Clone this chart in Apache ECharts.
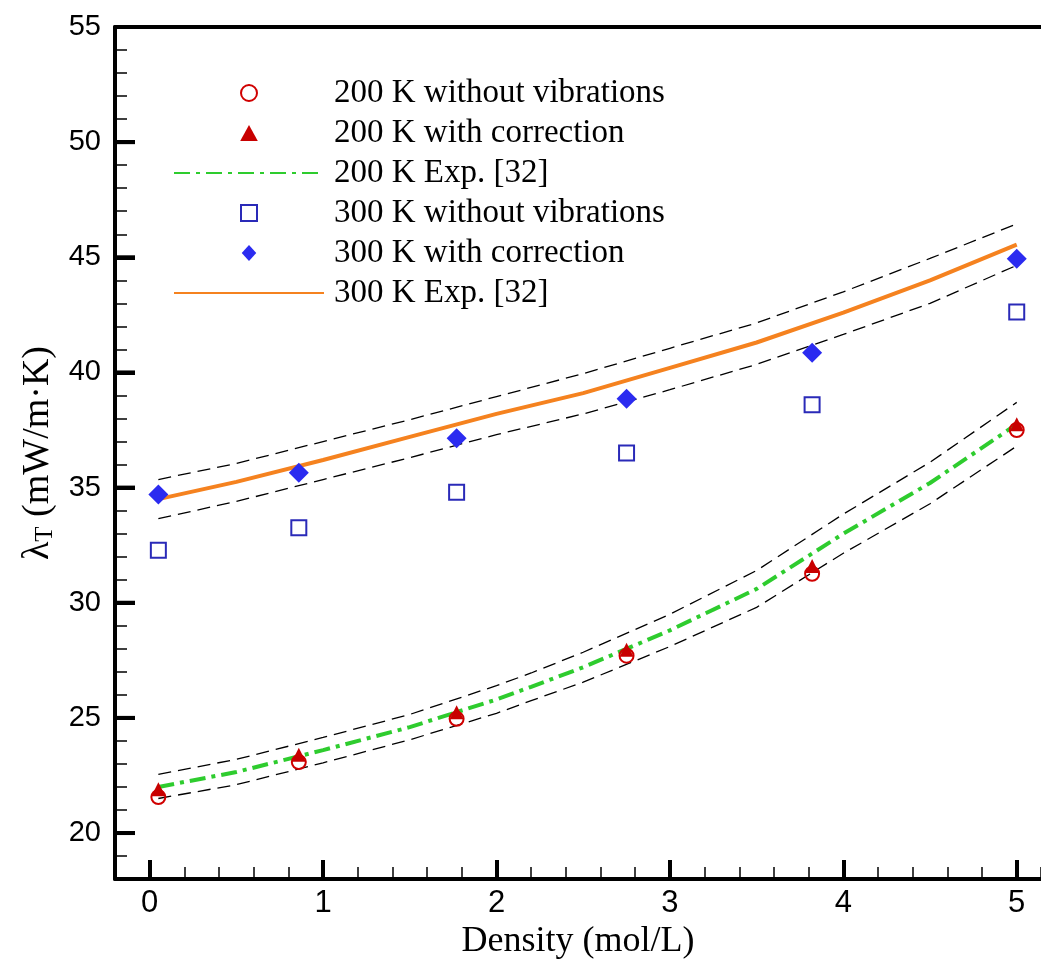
<!DOCTYPE html>
<html>
<head>
<meta charset="utf-8">
<script src="https://cdn.jsdelivr.net/npm/echarts@6/dist/echarts.min.js"></script>
<style>
html,body{margin:0;padding:0;background:#fff;}
#chart{width:1041px;height:965px;}
</style>
</head>
<body>
<div id="chart"></div>
<script>
// ---- data ----
const densityPts = [0.05, 0.86, 1.77, 2.75, 3.82, 5.0];
const k200NoVib = [21.56, 23.08, 24.96, 27.7, 31.26, 37.5];
const k200Corr  = [21.9, 23.4, 25.25, 27.96, 31.6, 37.75];
const k300NoVib = [32.28, 33.26, 34.8, 36.5, 38.6, 42.63];
const k300Corr  = [34.7, 35.65, 37.14, 38.86, 40.85, 44.94];

const expX200   = [0.05, 0.5, 1.0, 1.5, 2.0, 2.2, 2.5, 3.0, 3.5, 4.0, 4.5, 5.0];
const exp200    = [22.0, 22.65, 23.6, 24.6, 25.8, 26.35, 27.2, 28.8, 30.6, 33.0, 35.2, 37.75];
const exp200Up  = [22.55, 23.2, 24.15, 25.15, 26.4, 26.95, 27.85, 29.5, 31.4, 33.85, 36.1, 38.7];
const exp200Lo  = [21.5, 22.1, 23.05, 24.05, 25.2, 25.75, 26.55, 28.1, 29.8, 32.15, 34.3, 36.8];

const expX300   = [0.05, 0.5, 1.0, 1.5, 2.0, 2.5, 3.0, 3.5, 4.0, 4.5, 5.0];
const exp300    = [34.5, 35.25, 36.2, 37.2, 38.2, 39.1, 40.2, 41.3, 42.6, 44.0, 45.55];
const exp300Up  = [35.35, 36.05, 37.0, 37.95, 38.95, 39.95, 41.05, 42.15, 43.5, 44.95, 46.45];
const exp300Lo  = [33.65, 34.4, 35.35, 36.3, 37.3, 38.2, 39.25, 40.35, 41.65, 43.0, 44.65];

const xTicks = [0, 1, 2, 3, 4, 5];
const yTicks = [20, 25, 30, 35, 40, 45, 50, 55];

const names = [
  '200 K without vibrations',
  '200 K with correction',
  '200 K Exp. [32]',
  '300 K without vibrations',
  '300 K with correction',
  '300 K Exp. [32]'
];

const zip = (xs, ys) => xs.map((x, i) => [x, ys[i]]);

const serif = "'Liberation Serif','Times New Roman',serif";
const sans = "'Liberation Sans',Arial,sans-serif";
const narrow = "'Liberation Sans Narrow','Arial Narrow','Liberation Sans',sans-serif";

const X_MIN = -0.2, X_MAX = 5.14, Y_MIN = 18, Y_MAX = 55;

const bandStyle = { color: '#000', width: 1.3, type: [13, 7] };
const axisLineStyle = { color: '#000', width: 4 };
const hidden = { show: false };

const chart = echarts.init(document.getElementById('chart'), null, { renderer: 'canvas' });

chart.setOption({
  backgroundColor: '#fff',
  animation: false,
  grid: { left: 115, top: 27, right: 0, height: 856, show: false },
  legend: {
    orient: 'vertical',
    left: 168, top: 71,
    itemWidth: 150, itemHeight: 16, itemGap: 6,
    data: [
      { name: names[0], icon: 'circle' },
      { name: names[1], icon: 'path://M0,-1L1.1,1L-1.1,1Z' },
      { name: names[2] },
      { name: names[3], icon: 'path://M-1,-1L1,-1L1,1L-1,1Z' },
      { name: names[4], icon: 'path://M0,-1.1L1,0L0,1.1L-1,0Z' },
      { name: names[5] }
    ],
    textStyle: { fontFamily: serif, fontSize: 33, color: '#000', lineHeight: 34, padding: [0, 0, 0, 5] },
    selectedMode: false
  },
  xAxis: [
    {
      type: 'value', min: X_MIN, max: X_MAX, position: 'bottom',
      axisLine: { show: true, onZero: false, lineStyle: axisLineStyle },
      splitLine: hidden, axisTick: hidden,
      axisLabel: { customValues: xTicks, fontFamily: narrow, fontSize: 31, color: '#000', margin: 9 },
      name: 'Density (mol/L)', nameLocation: 'middle', nameGap: 41,
      nameTextStyle: { fontFamily: serif, fontSize: 36, color: '#000' }
    },
    {
      type: 'value', min: X_MIN, max: X_MAX, interval: 0.2, position: 'bottom',
      axisLine: { show: false, onZero: false }, splitLine: hidden, axisLabel: hidden,
      axisTick: { show: true, inside: true, length: 12, lineStyle: { width: 1.5, color: '#000' } }
    },
    {
      type: 'value', min: X_MIN, max: X_MAX, position: 'bottom',
      axisLine: { show: false, onZero: false }, splitLine: hidden, axisLabel: hidden,
      axisTick: { show: true, inside: true, length: 19, lineStyle: { width: 4, color: '#000' }, customValues: xTicks }
    },
    {
      type: 'value', min: X_MIN, max: X_MAX, position: 'top',
      axisLine: { show: true, onZero: false, lineStyle: axisLineStyle },
      splitLine: hidden, axisTick: hidden, axisLabel: hidden
    }
  ],
  yAxis: [
    {
      type: 'value', min: Y_MIN, max: Y_MAX, position: 'left',
      axisLine: { show: true, onZero: false, lineStyle: axisLineStyle },
      splitLine: hidden,
      axisTick: { show: true, inside: true, length: 20, lineStyle: { width: 4, color: '#000' }, customValues: yTicks },
      axisLabel: { customValues: yTicks, fontFamily: sans, fontSize: 29, color: '#000', margin: 14 },
      name: '{a|λ}{b|T}{a| (mW/m·K)}', nameLocation: 'middle', nameGap: 52, nameRotate: 90,
      nameTextStyle: {
        rich: {
          a: { fontFamily: serif, fontSize: 38, color: '#000' },
          b: { fontFamily: serif, fontSize: 25, color: '#000', padding: [15, 0, 0, 0] }
        }
      }
    },
    {
      type: 'value', min: Y_MIN, max: Y_MAX, interval: 1, position: 'left',
      axisLine: { show: false, onZero: false }, splitLine: hidden, axisLabel: hidden,
      axisTick: { show: true, inside: true, length: 12, lineStyle: { width: 1.5, color: '#000' } }
    }
  ],
  series: [
    { type: 'line', data: zip(expX200, exp200Up), symbol: 'none', lineStyle: bandStyle, silent: true, z: 1 },
    { type: 'line', data: zip(expX200, exp200Lo), symbol: 'none', lineStyle: bandStyle, silent: true, z: 1 },
    { type: 'line', data: zip(expX300, exp300Up), symbol: 'none', lineStyle: bandStyle, silent: true, z: 1 },
    { type: 'line', data: zip(expX300, exp300Lo), symbol: 'none', lineStyle: bandStyle, silent: true, z: 1 },
    {
      name: names[2], type: 'line', data: zip(expX200, exp200), symbol: 'none', z: 2,
      lineStyle: { color: '#2ecc2e', width: 4, type: [16, 6, 4, 6] },
      itemStyle: { color: 'rgba(0,0,0,0)', borderWidth: 0 }
    },
    {
      name: names[5], type: 'line', data: zip(expX300, exp300), symbol: 'none', z: 2,
      lineStyle: { color: '#f5821f', width: 4, type: 'solid' },
      itemStyle: { color: 'rgba(0,0,0,0)', borderWidth: 0 }
    },
    {
      name: names[0], type: 'scatter', data: zip(densityPts, k200NoVib), symbol: 'circle', symbolSize: 14, z: 3,
      itemStyle: { color: 'rgba(255,255,255,0)', borderColor: '#d00000', borderWidth: 2, opacity: 1 }
    },
    {
      name: names[1], type: 'scatter', data: zip(densityPts, k200Corr), symbol: 'triangle', symbolSize: 14, z: 4,
      itemStyle: { color: '#c80000', opacity: 1 }
    },
    {
      name: names[3], type: 'scatter', data: zip(densityPts, k300NoVib), symbol: 'rect', symbolSize: 15, z: 3,
      itemStyle: { color: 'rgba(255,255,255,0)', borderColor: '#2a2ab8', borderWidth: 2, opacity: 1 }
    },
    {
      name: names[4], type: 'scatter', data: zip(densityPts, k300Corr), symbol: 'diamond', symbolSize: [20, 20], z: 4,
      itemStyle: { color: '#2b2bf0', opacity: 1 }
    },
    {
      // major tick marks of the left axis, placed on the axis through the scales
      type: 'scatter', data: yTicks.map(v => [X_MIN, v]), symbol: 'rect', symbolSize: [20, 4], symbolOffset: [10, 0],
      itemStyle: { color: '#000', opacity: 1 }, silent: true, clip: false, z: 5
    }
  ]
});
</script>
</body>
</html>
